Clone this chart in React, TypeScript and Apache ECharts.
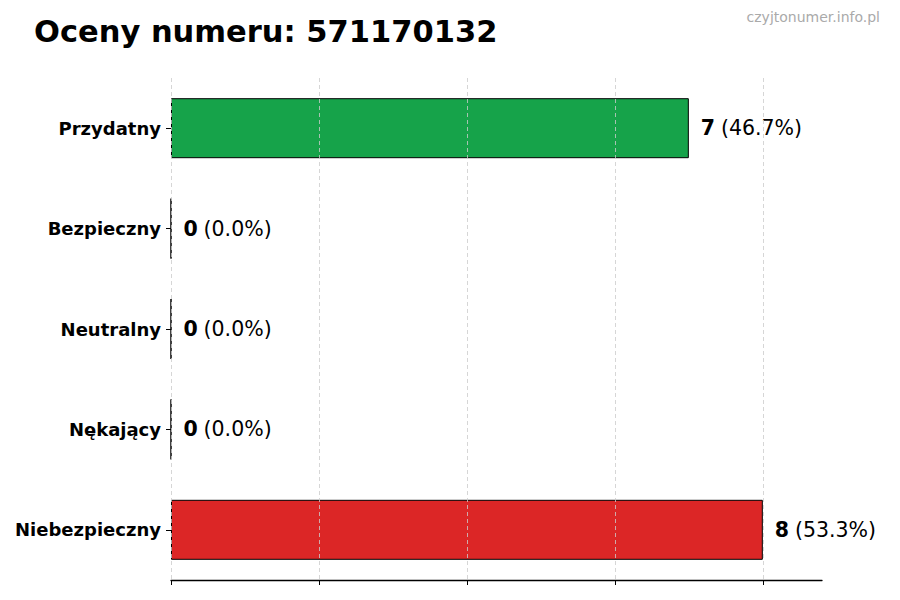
import React, { useEffect, useRef } from 'react';
import * as echarts from 'echarts';

const categories = ['Przydatny', 'Bezpieczny', 'Neutralny', 'Nękający', 'Niebezpieczny'];
const counts = [7, 0, 0, 0, 8];
const percents = ['46.7%', '0.0%', '0.0%', '0.0%', '53.3%'];
const barColors = ['#16a34a', '#16a34a', '#16a34a', '#16a34a', '#dc2626'];
const gridTicks = [0, 2, 4, 6, 8];
const phoneNumber = '571170132';

const FONT = 'DejaVu Sans';

const App: React.FC = () => {
  const chartRef = useRef<HTMLDivElement>(null);

  useEffect(() => {
    if (!chartRef.current) return;
    const chart = echarts.init(chartRef.current, undefined, { renderer: 'svg' });

    const option: echarts.EChartsOption = {
      animation: false,
      backgroundColor: '#ffffff',
      textStyle: { fontFamily: FONT },
      title: [
        {
          text: `Oceny numeru: ${phoneNumber}`,
          left: 29,
          top: 11,
          textStyle: { fontFamily: FONT, fontSize: 30.5, fontWeight: 'bold', color: '#000' },
        },
        {
          text: 'czyjtonumer.info.pl',
          right: 15,
          top: 5,
          textStyle: { fontFamily: FONT, fontSize: 14, fontWeight: 'normal', color: '#aaaaaa' },
        },
      ],
      grid: { left: 171, right: 78, top: 78, bottom: 20, containLabel: false },
      xAxis: {
        type: 'value',
        position: 'bottom',
        min: 0,
        max: 8.8,
        interval: 2,
        axisLine: { show: true, onZero: false, lineStyle: { color: '#000', width: 1.3 } },
        axisTick: { show: true, length: 5, customValues: gridTicks, lineStyle: { color: '#000', width: 1 } },
        axisLabel: { show: false },
        splitLine: { show: false },
      },
      yAxis: {
        type: 'category',
        data: categories,
        inverse: true,
        axisLine: { show: false },
        axisTick: { show: true, alignWithLabel: true, length: 5, lineStyle: { color: '#000' } },
        axisLabel: {
          fontFamily: FONT,
          fontSize: 18,
          fontWeight: 'bold',
          color: '#000',
          margin: 10,
        },
        splitLine: { show: false },
      },
      series: [
        {
          type: 'bar',
          barWidth: 60,
          data: counts.map((v, i) => ({
            value: v,
            itemStyle: { color: barColors[i], borderColor: '#000', borderWidth: 1 },
          })),
          label: {
            show: true,
            position: 'right',
            distance: 12,
            formatter: (p: any) => `{b|${counts[p.dataIndex]}} {n|(${percents[p.dataIndex]})}`,
            rich: {
              b: { fontFamily: FONT, fontSize: 20.5, fontWeight: 'bold', color: '#000', padding: [0, 2, 0, 0] },
              n: { fontFamily: FONT, fontSize: 20.5, fontWeight: 'normal', color: '#000' },
            },
          },
          markLine: {
            silent: true,
            symbol: ['none', 'none'],
            label: { show: false },
            lineStyle: { color: '#cccccc', type: [4, 3], width: 0.8 },
            data: gridTicks.map((t) => ({ xAxis: t })),
          },
        },
      ],
    };

    chart.setOption(option);
    return () => {
      chart.dispose();
    };
  }, []);

  return <div ref={chartRef} style={{ width: 900, height: 600, margin: -8 }} />;
};

export default App;
